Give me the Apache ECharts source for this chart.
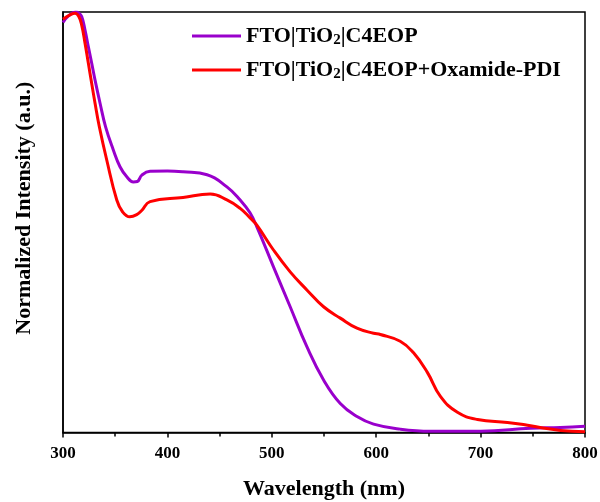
<!DOCTYPE html>
<html>
<head>
<meta charset="utf-8">
<script src="https://cdn.jsdelivr.net/npm/echarts@6/dist/echarts.min.js"></script>
<style>
  html, body { margin: 0; padding: 0; background: #fff; }
  #chart { width: 600px; height: 502px; }
</style>
</head>
<body>
<div id="chart"></div>
<script>
// wavelength (nm), normalized intensity
var xTicks = [300, 400, 500, 600, 700, 800];

var c4eop = [
  [300, 0.975], [305, 0.99], [312, 1.0], [315, 0.998], [317.9, 0.989], [321.1, 0.957],
  [324.3, 0.917], [327.5, 0.878], [330.7, 0.838], [335.5, 0.783], [340.8, 0.727],
  [348.2, 0.672], [354.6, 0.632], [361.1, 0.608], [367.4, 0.596], [371.2, 0.597],
  [375.5, 0.612], [383.4, 0.621], [400, 0.622], [415, 0.62], [438, 0.613],
  [457, 0.584], [469.7, 0.553], [479, 0.523], [485.7, 0.489], [501.6, 0.394],
  [517.6, 0.299], [533.6, 0.204], [549.6, 0.125], [565.6, 0.069], [581.6, 0.038],
  [597.5, 0.02], [623, 0.008], [652, 0.003], [700, 0.003], [748, 0.01],
  [776.5, 0.012], [800, 0.015]
];

var c4eopPdi = [
  [300, 0.983], [306.7, 0.993], [311.5, 0.997], [315, 0.99], [317.9, 0.969],
  [321.1, 0.926], [324.3, 0.878], [327.5, 0.83], [330.7, 0.783], [334.8, 0.727],
  [341.9, 0.648], [351.5, 0.553], [357, 0.525], [364, 0.513], [370.6, 0.518],
  [375.4, 0.528], [383.4, 0.549], [415, 0.559], [441, 0.567], [457, 0.553],
  [469.7, 0.533], [479, 0.511], [485.7, 0.493], [501.6, 0.434], [517.6, 0.382],
  [533.6, 0.339], [549.6, 0.299], [565.6, 0.272], [581.6, 0.248], [597.5, 0.236],
  [604, 0.233], [623, 0.217], [635.6, 0.19], [649, 0.143], [661.5, 0.086],
  [677.8, 0.048], [697, 0.031], [725.7, 0.024], [741, 0.019], [757, 0.012],
  [776.5, 0.005], [800, 0.002]
];

var seriesNames = ["FTO|TiO2|C4EOP", "FTO|TiO2|C4EOP+Oxamide-PDI"];
var seriesColors = ["#9900CC", "#FF0000"];

var FONT = "'Liberation Serif', 'Times New Roman', serif";

var chart = echarts.init(document.getElementById("chart"));

var option = {
  animation: false,
  backgroundColor: "#fff",
  grid: {
    left: 63, right: 15, top: 12, bottom: 69.5,
    outerBoundsMode: "none",
    show: true, borderColor: "#000", borderWidth: 1.5
  },
  legend: {
    orient: "vertical",
    left: 187, top: 20,
    itemWidth: 49, itemHeight: 3,
    itemGap: 11,
    icon: "rect",
    data: seriesNames,
    formatter: function (name) {
      return name.replace("TiO2", "TiO{sub|2}");
    },
    textStyle: {
      fontFamily: FONT, fontWeight: "bold", fontSize: 22, color: "#000",
      rich: {
        sub: { fontFamily: FONT, fontWeight: "bold", fontSize: 15, color: "#000", verticalAlign: "bottom", padding: [9, 0, 0, 0] }
      }
    }
  },
  xAxis: {
    type: "value",
    min: 300, max: 800, interval: 100,
    name: "Wavelength (nm)",
    nameLocation: "middle",
    nameGap: 46,
    nameTextStyle: { fontFamily: FONT, fontWeight: "bold", fontSize: 22, color: "#000" },
    axisLine: { lineStyle: { color: "#000", width: 1.5 } },
    axisTick: { show: true, length: 5, lineStyle: { color: "#000", width: 1.5 } },
    minorTick: { show: true, splitNumber: 2, length: 4, lineStyle: { color: "#000", width: 1.5 } },
    splitLine: { show: false },
    axisLabel: {
      margin: 13,
      fontFamily: FONT, fontWeight: "bold", fontSize: 17, color: "#000",
      formatter: function (v) { return xTicks.indexOf(v) >= 0 ? String(v) : ""; }
    }
  },
  yAxis: {
    type: "value",
    min: 0, max: 1,
    name: "Normalized Intensity (a.u.)",
    nameLocation: "middle",
    nameGap: 28,
    nameTextStyle: { fontFamily: FONT, fontWeight: "bold", fontSize: 22, color: "#000", padding: [0, 0, 0, 28] },
    axisLine: { show: true, lineStyle: { color: "#000", width: 1.5 } },
    axisTick: { show: false },
    axisLabel: { show: false },
    splitLine: { show: false }
  },
  series: [
    {
      name: seriesNames[0], type: "line", data: c4eop,
      smooth: 0.45, showSymbol: false, symbol: "none",
      lineStyle: { color: seriesColors[0], width: 3 },
      itemStyle: { color: seriesColors[0] }
    },
    {
      name: seriesNames[1], type: "line", data: c4eopPdi,
      smooth: 0.45, showSymbol: false, symbol: "none",
      lineStyle: { color: seriesColors[1], width: 3 },
      itemStyle: { color: seriesColors[1] }
    }
  ]
};

chart.setOption(option);
</script>
</body>
</html>
